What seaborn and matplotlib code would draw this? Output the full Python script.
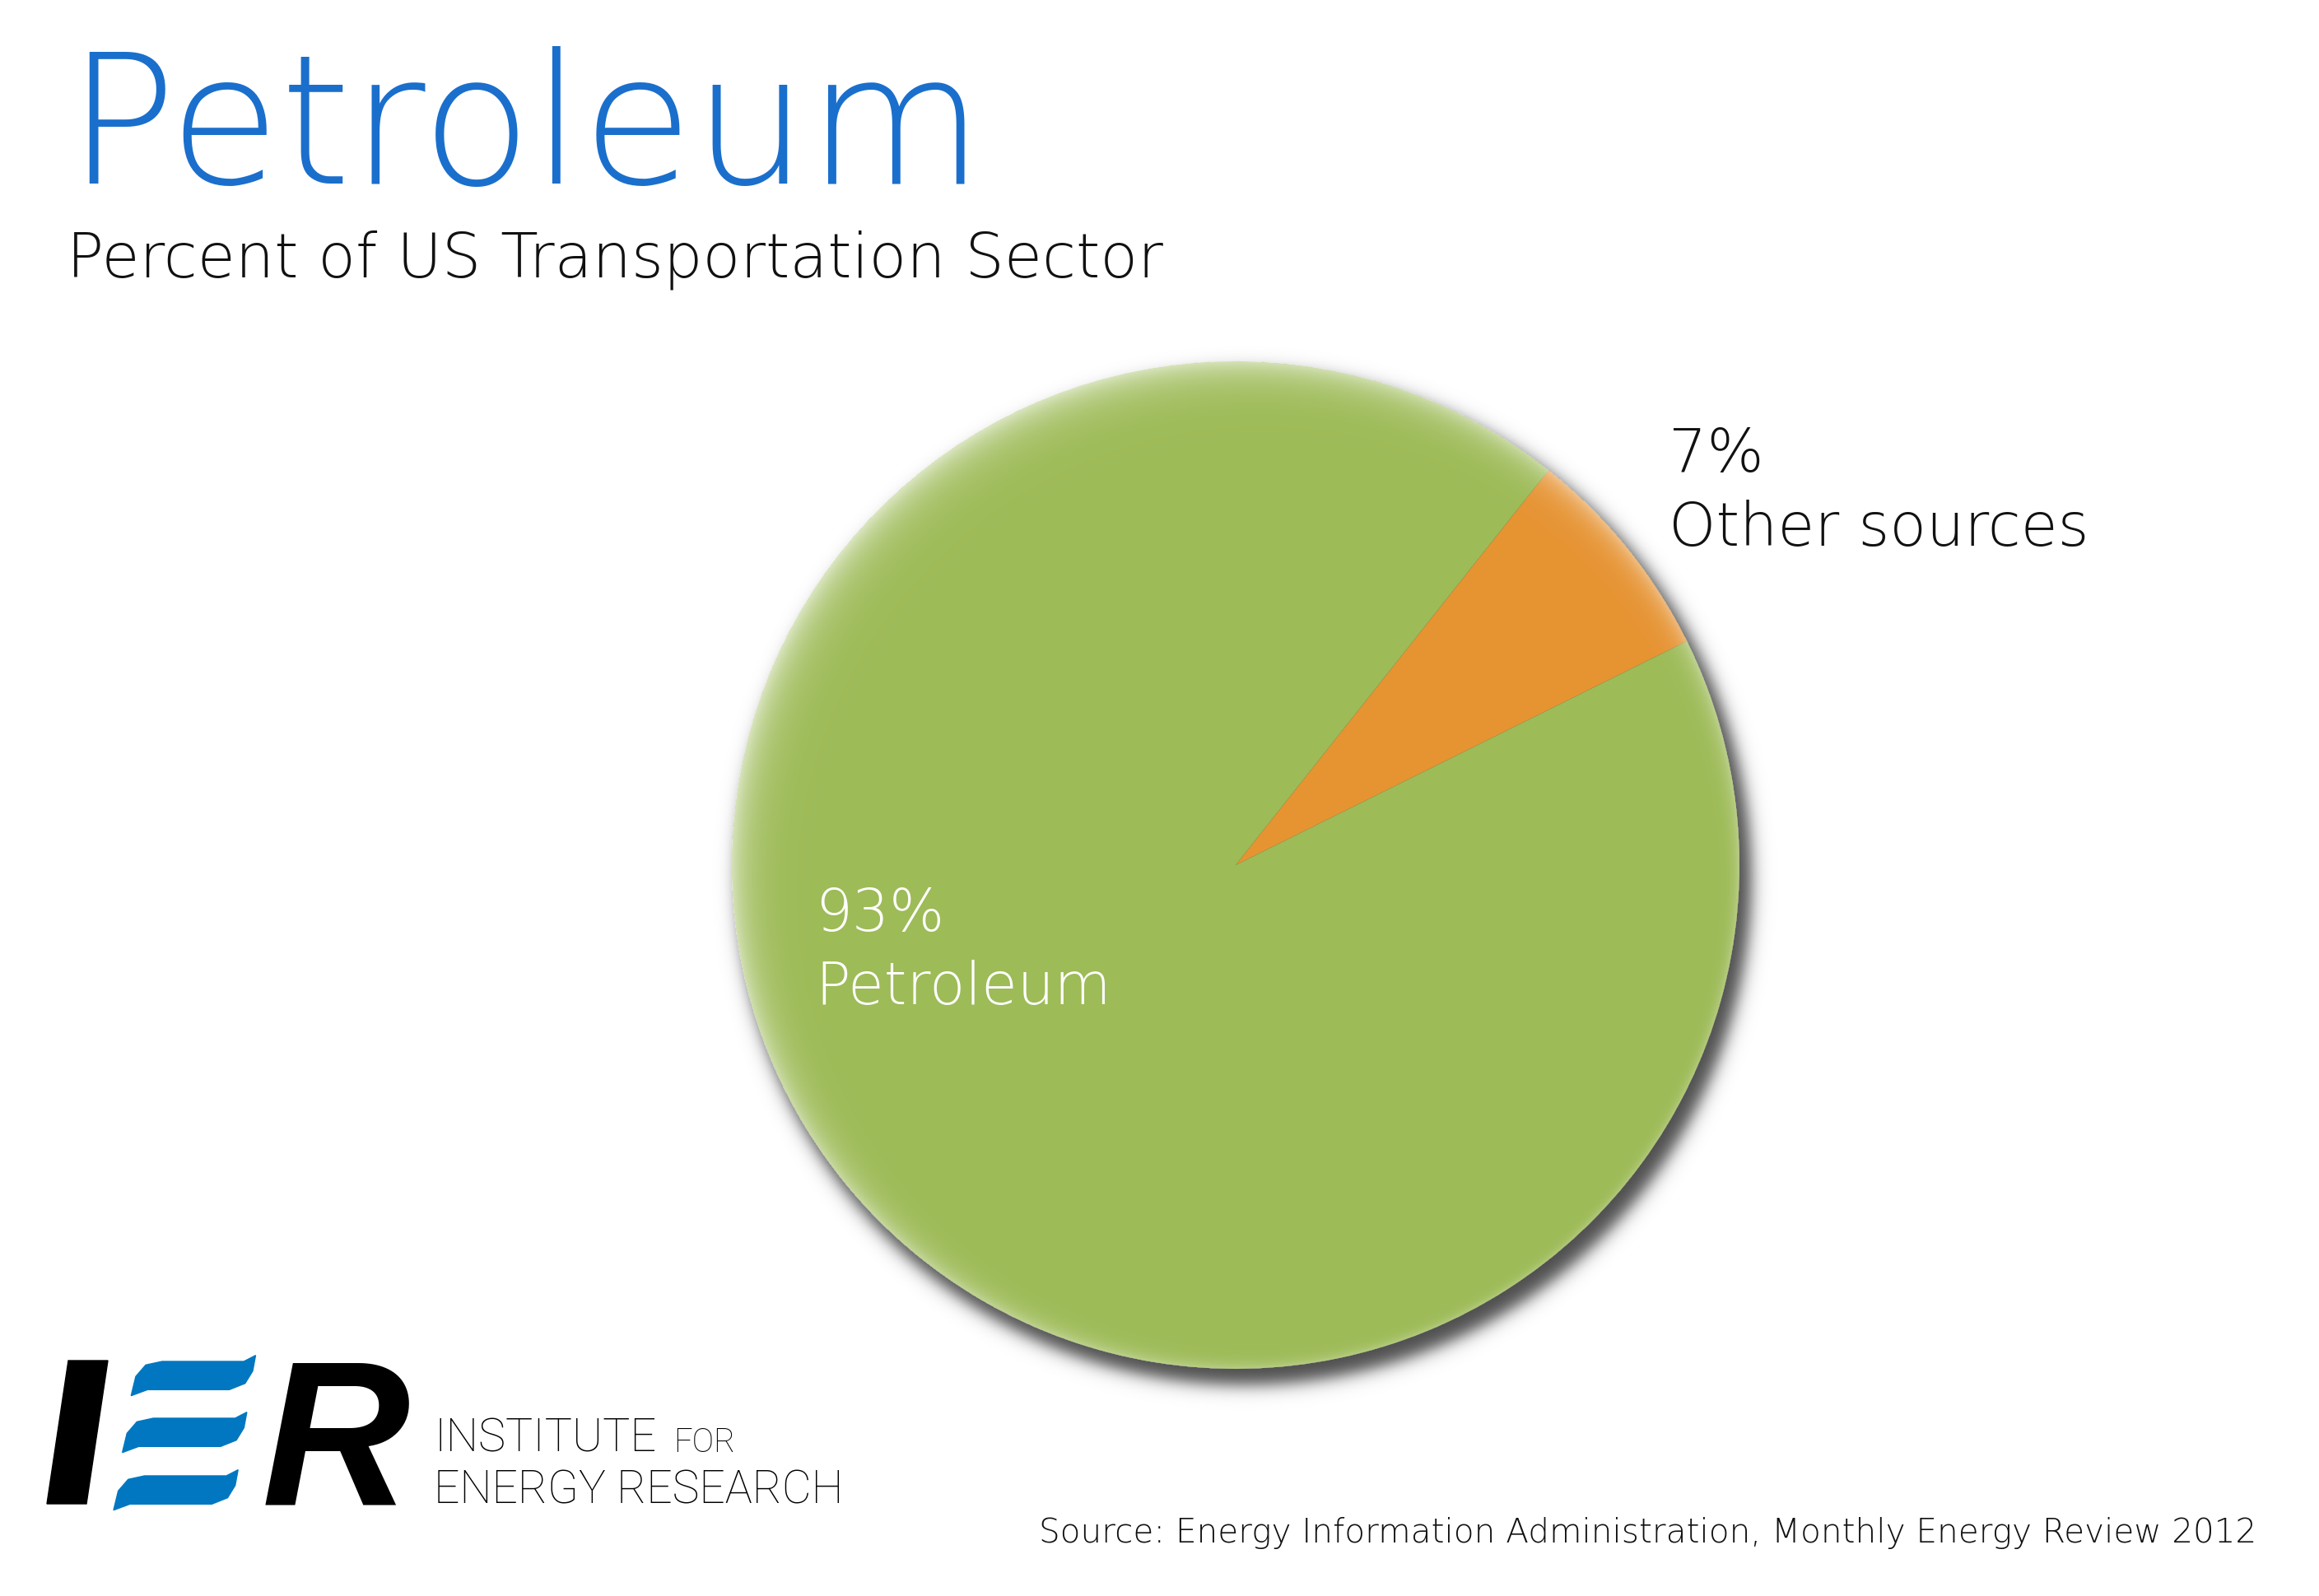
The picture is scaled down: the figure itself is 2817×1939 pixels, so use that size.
import numpy as np
import matplotlib
matplotlib.use('Agg')
import matplotlib.pyplot as plt
import seaborn as sns
from matplotlib.patches import Polygon

W, H, DPI = 2817, 1940, 100

# chart data
sources = ['Other sources', 'Petroleum']
shares = [7, 93]
slice_colors = ['#e69332', '#9dbb57']
label_colors = ['#111111', 'white']
title = 'Petroleum'
subtitle = 'Percent of US Transportation Sector'
source_note = 'Source: Energy Information Administration, Monthly Energy Review 2012'

sns.set_theme(style='white')
MAIN = ['DejaVu Sans']
plt.rcParams['font.family'] = MAIN

fig = plt.figure(figsize=(W / DPI, H / DPI), dpi=DPI, facecolor='white')
renderer = fig.canvas.get_renderer()


def fx(x):
    return x / W


def fy(y):
    return 1 - y / H


def put(x, y, s, width=None, size=40, **kw):
    t = fig.text(fx(x), fy(y), s, va='baseline', ha='left', fontsize=size, **kw)
    if width:
        w = t.get_window_extent(renderer).width
        t.set_fontsize(size * width / w)
    return t


# pie axes, centre and radius in pixels
CX, CY, RPX = 1501, 1052, 612
LIM = 1.15
side = 2 * LIM * RPX
ax = fig.add_axes([fx(CX - side / 2), fy(CY + side / 2), side / W, side / H])

wedges, _ = ax.pie(shares, colors=slice_colors, startangle=26.4, counterclock=True,
                   radius=1, wedgeprops=dict(linewidth=0))
ax.set_xlim(-LIM, LIM)
ax.set_ylim(-LIM, LIM)
ax.set_aspect('equal')
ax.axis('off')

# drop shadow + soft inner highlight
n = int(side)
g = np.linspace(-LIM, LIM, n) * RPX
X, Y = np.meshgrid(g, g)
rs = np.hypot(X - 11, Y + 16)
d = rs - (RPX + 4)
sh = np.zeros((n, n, 4))
sh[..., 3] = 0.7 / (1 + np.exp(np.clip(d / 6, -50, 50)))
ax.imshow(sh, extent=[-LIM, LIM, -LIM, LIM], origin='lower', zorder=0, interpolation='bilinear')

r = np.hypot(X, Y)
th = np.arctan2(Y, X)
c = (1 + np.cos(th - 3 * np.pi / 4)) / 2
A = 0.22 + 0.42 * c
Wd = 5 + 20 * c
gl = np.ones((n, n, 4))
gl[..., 3] = np.where(r <= RPX + 0.5, A * np.exp(-(RPX - r).clip(0) / Wd), 0)
ax.imshow(gl, extent=[-LIM, LIM, -LIM, LIM], origin='lower', zorder=3, interpolation='bilinear')

# titles
put(81, 223, title, width=1114, size=160, color='#1a6fcc', fontweight='light')
put(81, 337, subtitle, width=1335, size=50, color='#111111', fontweight='light')

# slice labels
lab_pos = [(2027, 573, 663, 510), (990, 1131, 1220, 359)]
for (x, y1, y2, w), s, v, col in zip(lab_pos, sources, shares, label_colors):
    t = put(x, y2, s, width=w, size=48, color=col, fontweight='light')
    put(x, y1, f'{v}%', size=t.get_fontsize(), color=col, fontweight='light')

put(1262, 1874, source_note, width=1479, size=30, color='#111111', fontweight='light')

# IER logo
LOGO = ['Roboto', 'DejaVu Sans']
fig.patches.append(Polygon([(fx(57), fy(1828)), (fx(105), fy(1828)), (fx(131), fy(1654)), (fx(83), fy(1654))],
                           closed=True, color='black', transform=fig.transFigure))
stripe = [(237, 290), (245, 220), (262, 178), (290, 165), (430, 165), (450, 143),
          (445, 200), (432, 245), (405, 268), (265, 268)]
for ox, oy in [(0, 0), (-15, 207), (-30, 417)]:
    pts = [(fx((zx + ox) * 0.71 - 9), fy(1600 + (zy + oy) / 3)) for zx, zy in stripe]
    fig.patches.append(Polygon(pts, closed=True, color='#0077c0', transform=fig.transFigure))
fig.text(fx(318), fy(1828), 'R', fontsize=180, fontweight='bold', fontstyle='italic',
         family=['Liberation Sans'], va='baseline', ha='left', color='black')
put(527, 1764, 'INSTITUTE', width=270, size=38, family=LOGO, fontweight='light', color='black')
put(818, 1764, 'FOR', width=75, size=28, family=LOGO, fontweight='light', color='black')
put(527, 1827, 'ENERGY RESEARCH', width=497, size=38, family=LOGO, fontweight='light', color='black')

fig.savefig('out.png', dpi=DPI, facecolor='white')
